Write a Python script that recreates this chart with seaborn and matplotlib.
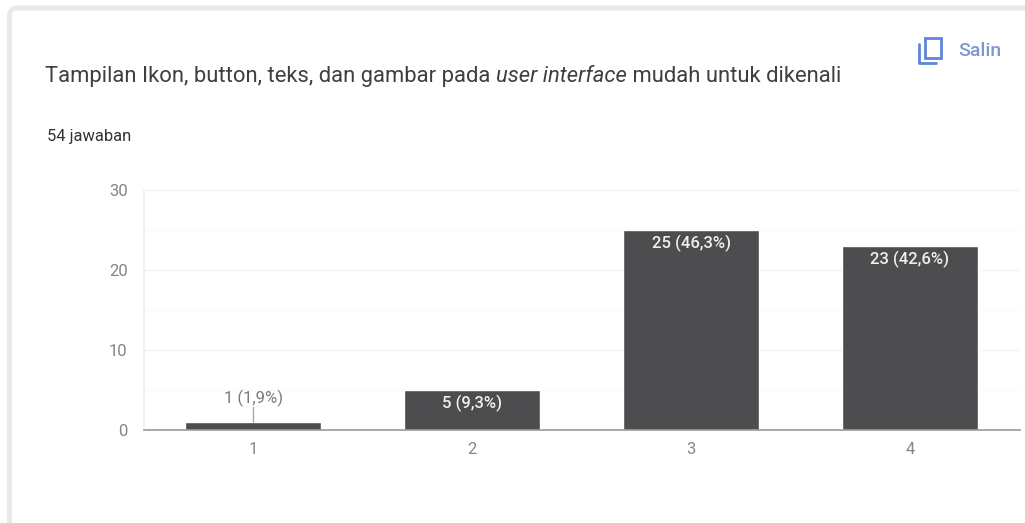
import matplotlib
matplotlib.use("Agg")
import matplotlib.pyplot as plt
from matplotlib.patches import FancyBboxPatch, Rectangle
from matplotlib.lines import Line2D
from matplotlib.text import Annotation
import seaborn as sns
import pandas as pd

categories = ["1", "2", "3", "4"]
counts = [1, 5, 25, 23]
bar_labels = ["1 (1,9%)", "5 (9,3%)", "25 (46,3%)", "23 (42,6%)"]
y_ticks = [0, 10, 20, 30]
minor_ticks = [5, 15, 25]
title_parts = ["Tampilan Ikon, button, teks, dan gambar pada ", "user interface", " mudah untuk dikenali"]
answers = "54 jawaban"
copy_label = "Salin"

W, H = 1025, 523
sns.set_theme(style="white")
plt.rcParams["font.family"] = ["Roboto", "DejaVu Sans"]
fig = plt.figure(figsize=(W / 100, H / 100), dpi=100, facecolor="white")

def fx(px): return px / W
def fy(py): return 1 - py / H

# card outline
fig.add_artist(FancyBboxPatch((fx(9.5), fy(560)), fx(1100), 552 / H,
                              boxstyle="round,pad=0,rounding_size=0.008",
                              transform=fig.transFigure, fc="white", ec="#e9e9e9", lw=3.5,
                              mutation_aspect=W / H, zorder=-5))

# chart
ax = fig.add_axes([fx(143.5), fy(430), fx(876), 240 / H])
ax.patch.set_alpha(0)
df = pd.DataFrame({"option": categories, "count": counts})
sns.barplot(data=df, x="option", y="count", color="#4d4d4f", saturation=1, width=0.625, ax=ax)
ax.set_xlim(-0.5, 3.5)
ax.set_ylim(0, 30)
ax.set_xlabel("")
ax.set_ylabel("")
ax.set_yticks(y_ticks)
ax.set_yticks(minor_ticks, minor=True)
ax.set_axisbelow(True)
ax.grid(axis="y", which="major", color="#f3f3f3", lw=1)
ax.grid(axis="y", which="minor", color="#fafafa", lw=1)
ax.grid(axis="x", visible=False)
for side in ["top", "right"]:
    ax.spines[side].set_visible(False)
ax.spines["left"].set_color("#f1f1f1")
ax.spines["bottom"].set_color("#9a9a9a")
ax.spines["bottom"].set_linewidth(1.2)
ax.set_zorder(1)
ax.tick_params(axis="both", which="both", length=0, labelcolor="#858585", labelsize=12)
ax.tick_params(axis="x", pad=8.5)
ax.tick_params(axis="y", pad=11.5)

# value labels
for i, (c, lab) in enumerate(zip(counts, bar_labels)):
    if c <= 1:
        ax.plot([i, i], [c, c + 1.9], color="#a8a8a8", lw=1)
        ax.annotate(lab, (i, c), xytext=(0, 17), textcoords="offset points", ha="center", va="center",
                    color="#7b7b7b", fontsize=12)
    else:
        ax.annotate(lab, (i, c), xytext=(0, -9.5), textcoords="offset points", ha="center", va="center",
                    color="#f0f0f0", fontsize=12, fontweight="medium")

# titles
TS = 15.8
t1 = fig.text(fx(45), fy(82), title_parts[0], fontsize=TS, color="#3c4043", va="baseline")
a2 = fig.add_artist(Annotation(title_parts[1], xy=(1, 0), xycoords=t1, fontsize=TS,
                    color="#3c4043", style="italic", va="bottom"))
a3 = fig.add_artist(Annotation(title_parts[2], xy=(1, 0), xycoords=a2, fontsize=TS,
                    color="#3c4043", va="bottom"))
fig.text(fx(47), fy(141), answers, fontsize=11.9, color="#333333", va="baseline")

# copy icon + label
blue = "#5f84d8"
fig.add_artist(Rectangle((fx(925), fy(58)), fx(16), 20 / H, transform=fig.transFigure, fc="none", ec=blue, lw=2))
fig.add_artist(Line2D([fx(919), fx(919), fx(936)], [fy(44), fy(62.5), fy(62.5)],
                      transform=fig.transFigure, color=blue, lw=2))
fig.text(fx(958), fy(56), copy_label, fontsize=14, color="#7f97cf", fontweight="medium", va="baseline")

fig.savefig("out.png", dpi=100)
